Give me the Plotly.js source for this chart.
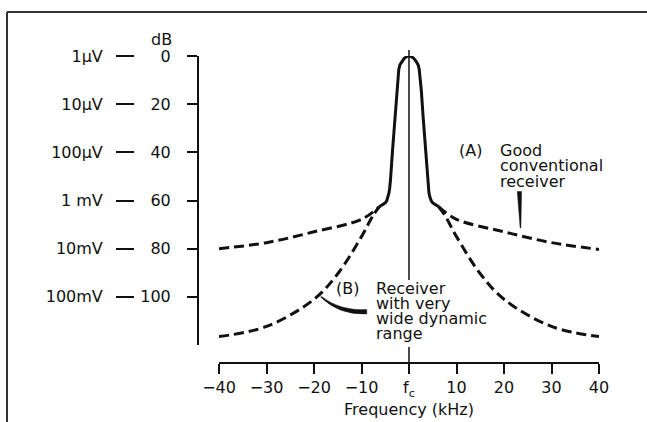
<!DOCTYPE html>
<html>
<head>
<meta charset="utf-8">
<script src="https://cdn.plot.ly/plotly-3.0.1.min.js"></script>
<style>html,body{margin:0;padding:0;background:#fff;}#chart{width:647px;height:422px;}</style>
</head>
<body>
<div id="chart"></div>
<script>
// ---- data ----
const freqTicks = [-40, -30, -20, -10, 0, 10, 20, 30, 40];
const freqTickText = ['\u221240', '\u221230', '\u221220', '\u221210', 'f<sub>c</sub>', '10', '20', '30', '40'];
const dbTicks = [0, 20, 40, 60, 80, 100];
const dbTickText = ['0', '20', '40', '60', '80', '100'];
const voltTickText = ['1\u03bcV', '10\u03bcV', '100\u03bcV', '1 mV', '10mV', '100mV'];

// solid passband (kHz, dB)
const peakX = [-6.2, -5.5, -5.05, -4.7, -4.4, -4.2, -4.05, -3.9, -3.5, -3.0, -2.6, -2.35, -2.15, -1.9, -1.5, -1.0, -0.5, 0,
               0.5, 1.0, 1.5, 1.9, 2.15, 2.35, 2.6, 3.0, 3.5, 3.9, 4.05, 4.2, 4.4, 4.7, 5.05, 5.5, 6.2];
const peakDb = [62.5, 61.8, 61.1, 60.2, 58.6, 56.8, 54.5, 51.5, 40, 26, 14.5, 8.5, 5.5, 3.6, 2.2, 1.0, 0.25, 0,
                0.25, 1.0, 2.2, 3.6, 5.5, 8.5, 14.5, 26, 40, 51.5, 54.5, 56.8, 58.6, 60.2, 61.1, 61.8, 62.5];
// (A) good conventional receiver
const aLeftX = [-40, -30, -20, -10, -6.2];
const aLeftDb = [80, 77.5, 73, 67.8, 62.5];
const aRightX = [6.2, 10, 20, 30, 40];
const aRightDb = [62.5, 67.8, 73, 77.5, 80.3];
// (B) receiver with very wide dynamic range
const bLeftX = [-40, -30, -20, -15, -10, -7.5, -6.2];
const bLeftDb = [116.5, 112.3, 101, 90.4, 75, 66, 62.5];
const bRightX = [6.2, 7.5, 10, 15, 20, 30, 40];
const bRightDb = [62.5, 66, 75, 90.4, 101, 112.3, 116.5];

const labelA = ['(A)', 'Good', 'conventional', 'receiver'];
const labelB = ['(B)', 'Receiver', 'with very', 'wide dynamic', 'range'];

// ---- layout helpers ----
const W = 647, H = 422;
const px = v => v / W;
const py = v => 1 - v / H;
const FONT = 'DejaVu Sans, Verdana, sans-serif';
const INK = '#111';
const FS = 16;

const solid = {width: 3, color: INK, shape: 'linear'};
const dashed = {width: 3, color: INK, dash: '10px,5px', shape: 'spline', smoothing: 1};

const data = [
  {x: peakX, y: peakDb, mode: 'lines', line: solid, hoverinfo: 'skip'},
  {x: aLeftX, y: aLeftDb, mode: 'lines', line: dashed, hoverinfo: 'skip'},
  {x: aRightX, y: aRightDb, mode: 'lines', line: dashed, hoverinfo: 'skip'},
  {x: bLeftX, y: bLeftDb, mode: 'lines', line: dashed, hoverinfo: 'skip'},
  {x: bRightX, y: bRightDb, mode: 'lines', line: dashed, hoverinfo: 'skip', yaxis: 'y2'}
];

const tickFont = {family: FONT, size: FS, color: INK};

function textAnn(t, xPx, yPx) {
  return {text: t, xref: 'paper', yref: 'paper', x: px(xPx), y: py(yPx), xanchor: 'left', yanchor: 'middle',
          showarrow: false, font: {family: FONT, size: FS, color: INK}, borderpad: 0};
}

const annotations = [
  {text: 'dB', xref: 'paper', yref: 'paper', x: px(161), y: py(40), xanchor: 'center', yanchor: 'middle',
   showarrow: false, font: {family: FONT, size: FS, color: INK}, borderpad: 0},
  textAnn(labelA[0], 458, 150), textAnn(labelA[1], 499, 150), textAnn(labelA[2], 499, 166), textAnn(labelA[3], 499, 181),
  textAnn(labelB[0], 335, 288), textAnn(labelB[1], 375, 288), textAnn(labelB[2], 375, 303),
  textAnn(labelB[3], 375, 318), textAnn(labelB[4], 375, 333)
];

const cLine = {color: INK, width: 1.5};
const shapes = [
  // frame
  {type: 'line', xref: 'paper', yref: 'paper', x0: px(7), x1: 1, y0: py(12), y1: py(12), line: {color: '#333', width: 2}},
  {type: 'line', xref: 'paper', yref: 'paper', x0: px(7), x1: px(7), y0: py(12), y1: 0, line: {color: '#333', width: 2}},
  // centre-frequency line (interrupted by the (B) label)
  {type: 'line', xref: 'x', yref: 'paper', x0: freqTicks[4], x1: freqTicks[4], y0: py(280), y1: py(50), line: cLine, layer: 'below'},
  {type: 'line', xref: 'x', yref: 'paper', x0: freqTicks[4], x1: freqTicks[4], y0: py(368), y1: py(347), line: cLine, layer: 'below'},
  // leader for (A)
  {type: 'path', xref: 'x', yref: 'y', path: 'M 22.8 56.3 L 23.7 56.3 L 23.55 71.4 L 23.4 71.4 Z', fillcolor: INK, line: {color: INK, width: 0.5}},
  // leader for (B)
  {type: 'path', xref: 'x', yref: 'y', path: 'M -18.4 99.9 Q -14.6 105.9 -8.9 105.3 L -8.9 107.1 Q -14.8 107.6 -18.6 100.1 Z', fillcolor: INK, line: {color: INK, width: 0.5}}
];

const layout = {
  width: W, height: H,
  margin: {l: 0, r: 0, t: 0, b: 0},
  paper_bgcolor: '#fff', plot_bgcolor: 'rgba(0,0,0,0)',
  showlegend: false,
  xaxis: {
    domain: [px(219), px(599)], range: [-40, 40], anchor: 'free', position: py(363),
    tickvals: freqTicks, ticktext: freqTickText, ticks: 'outside', ticklen: 10, tickwidth: 2, tickcolor: INK,
    showline: true, linewidth: 2, linecolor: INK, showgrid: false, zeroline: false,
    tickfont: tickFont, automargin: false, fixedrange: true,
    title: {text: 'Frequency (kHz)', font: {family: FONT, size: FS, color: INK}, standoff: 2}
  },
  yaxis: {
    domain: [py(345), py(56)], range: [120, 0], anchor: 'free', position: px(198),
    tickvals: dbTicks, ticktext: dbTickText, ticks: 'outside', ticklen: 10, tickwidth: 2, tickcolor: INK,
    showline: true, linewidth: 2, linecolor: INK, showgrid: false, zeroline: false,
    tickfont: tickFont, ticklabelstandoff: 13, automargin: false, fixedrange: true
  },
  yaxis2: {
    overlaying: 'y', range: [120, 0], anchor: 'free', position: px(134), side: 'left',
    tickvals: dbTicks, ticktext: voltTickText, ticks: 'outside', ticklen: 18, tickwidth: 2, tickcolor: INK,
    showline: false, showgrid: false, zeroline: false,
    tickfont: tickFont, ticklabelstandoff: 10, automargin: false, fixedrange: true
  },
  annotations: annotations,
  shapes: shapes
};

Plotly.newPlot('chart', data, layout, {staticPlot: true, displayModeBar: false});
</script>
</body>
</html>
